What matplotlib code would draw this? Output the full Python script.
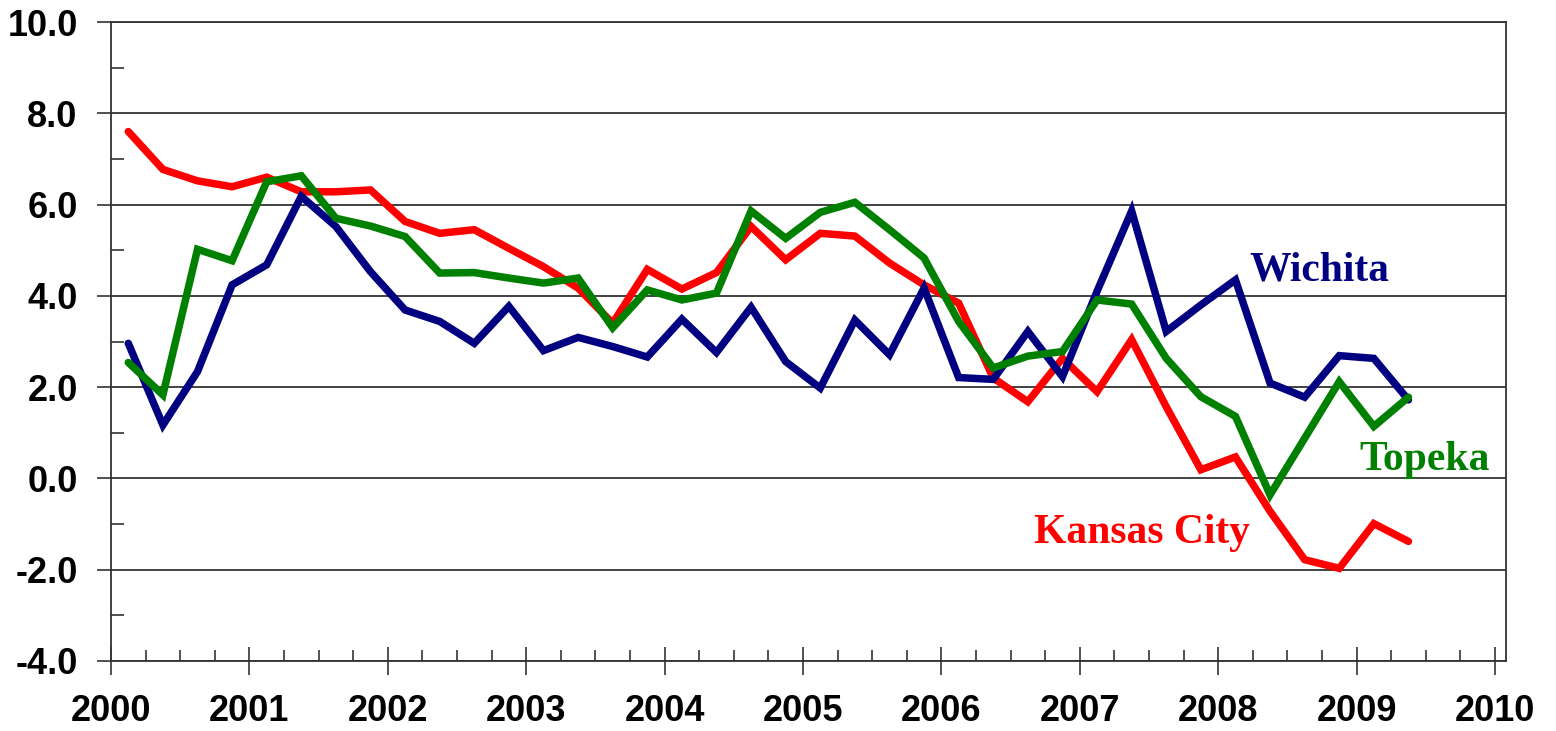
import numpy as np
import matplotlib
matplotlib.use("Agg")
import matplotlib.pyplot as plt
from matplotlib.ticker import MultipleLocator, FormatStrFormatter

# Quarterly data, 2000Q1 .. 2009Q2
start_year = 2000
n_quarters = 38

kansas_city = [7.6, 6.77, 6.52, 6.39, 6.6, 6.28, 6.28, 6.32, 5.63, 5.37, 5.45, 5.04,
               4.64, 4.17, 3.4, 4.58, 4.15, 4.51, 5.52, 4.79, 5.37, 5.31, 4.72, 4.24,
               3.84, 2.2, 1.68, 2.63, 1.9, 3.04, 1.57, 0.19, 0.47, -0.72, -1.78, -1.97,
               -0.99, -1.38]
topeka = [2.54, 1.83, 5.02, 4.77, 6.5, 6.63, 5.7, 5.53, 5.3, 4.5, 4.51, 4.39,
          4.28, 4.39, 3.3, 4.13, 3.91, 4.06, 5.86, 5.26, 5.83, 6.05, 5.45, 4.83,
          3.44, 2.42, 2.68, 2.78, 3.91, 3.82, 2.63, 1.79, 1.36, -0.36, 0.88, 2.12,
          1.14, 1.78]
wichita = [2.96, 1.17, 2.34, 4.24, 4.68, 6.18, 5.52, 4.53, 3.69, 3.44, 2.96, 3.77,
           2.8, 3.09, 2.89, 2.66, 3.49, 2.76, 3.75, 2.56, 1.98, 3.47, 2.71, 4.17,
           2.21, 2.17, 3.22, 2.23, 4.1, 5.86, 3.22, 3.8, 4.35, 2.09, 1.78, 2.69,
           2.63, 1.72]

series_names = ["Kansas City", "Wichita", "Topeka"]
series_colors = ["#ff0000", "#000080", "#008000"]
year_ticks = list(range(2000, 2011))

# quarter mid-points in decimal years
x = start_year + 0.125 + 0.25 * np.arange(n_quarters)

W, H = 1556, 731
fig = plt.figure(figsize=(W / 100, H / 100), dpi=100)
ax = fig.add_axes([111 / W, 1 - 661 / H, (1506 - 111) / W, (661 - 22) / H])

for vals, col in zip([kansas_city, wichita, topeka], series_colors):
    ax.plot(x, vals, color=col, lw=5.4, solid_capstyle="round", solid_joinstyle="miter", zorder=3)

ax.set_xlim(2000, 2010.08)
ax.set_ylim(-4, 10)

ax.xaxis.set_major_locator(MultipleLocator(1))
ax.xaxis.set_minor_locator(MultipleLocator(0.25))
ax.yaxis.set_major_locator(MultipleLocator(2))
ax.yaxis.set_minor_locator(MultipleLocator(1))
ax.yaxis.set_major_formatter(FormatStrFormatter("%.1f"))
ax.set_xticks(year_ticks)
ax.set_xticklabels([str(y) for y in year_ticks])

ax.yaxis.grid(True, which="major", color="#333333", lw=1.3, zorder=1)
for s in ax.spines.values():
    s.set_color("#333333")
    s.set_linewidth(1.3)

ax.tick_params(axis="x", which="major", direction="inout", length=20, width=1.2,
               color="#333333", pad=14)
ax.tick_params(axis="x", which="minor", direction="in", length=8, width=1.2, color="#333333")
ax.tick_params(axis="y", which="major", direction="out", length=10, width=1.2,
               color="#333333", pad=14)
ax.tick_params(axis="y", which="minor", direction="in", length=9, width=1.2, color="#333333")

for lab in ax.get_xticklabels() + ax.get_yticklabels():
    lab.set_fontfamily(["Liberation Sans", "DejaVu Sans"])
    lab.set_fontweight("bold")
    lab.set_fontsize(26)

label_font = dict(family=["Liberation Serif", "DejaVu Serif"], fontweight="bold", fontsize=30,
                  ha="center", va="baseline")
ax.text(2008.735, 4.33, "Wichita", color="#000080", **label_font)
ax.text(2009.49, 0.19, "Topeka", color="#008000", **label_font)
ax.text(2007.45, -1.42, "Kansas City", color="#ff0000", **label_font)

fig.savefig("out.png", dpi=100)
